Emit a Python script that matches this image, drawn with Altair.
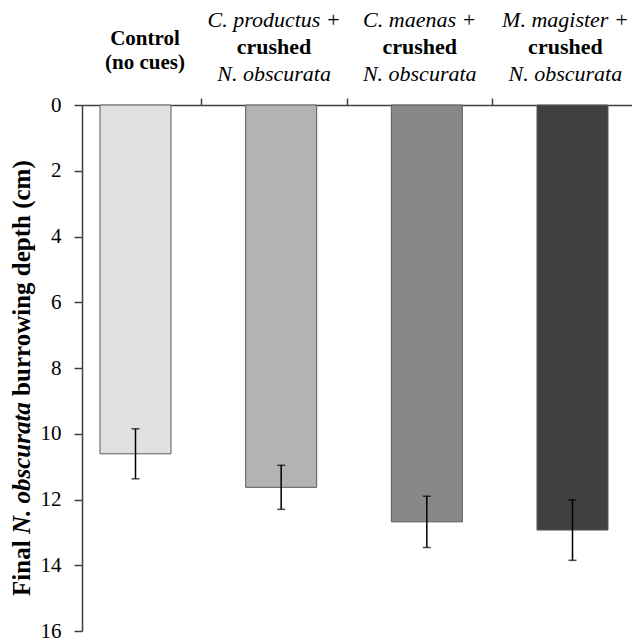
import altair as alt
import pandas as pd

# ---------------- data ----------------
categories = ["Control", "C. productus", "C. maenas", "M. magister"]
mean_depth = [10.61, 11.63, 12.68, 12.93]
se_depth = [0.76, 0.67, 0.78, 0.92]
bar_colors = ["#e0e0e0", "#b3b3b3", "#888888", "#404040"]
y_ticks = [0, 2, 4, 6, 8, 10, 12, 14, 16]
label_line1 = ["Control", "C. productus +", "C. maenas +", "M. magister +"]
label_line2 = ["(no cues)", "crushed", "crushed", "crushed"]
label_line3 = ["", "N. obscurata", "N. obscurata", "N. obscurata"]
title_parts = ["Final", "N. obscurata", "burrowing depth (cm)"]

df = pd.DataFrame({
    "cat": categories,
    "mean": mean_depth,
    "se": se_depth,
    "color": bar_colors,
})
df["low"] = df["mean"] - df["se"]
df["high"] = df["mean"] + df["se"]

# ---------------- layout ----------------
W, H = 550, 526
FONT = "Liberation Serif"
AX = "#404040"

xscale = alt.Scale(domain=categories, range=[0, W], paddingInner=0.5126,
                   paddingOuter=0.1442, align=0.4286)
yscale = alt.Scale(domain=[0, 16], reverse=True, nice=False)

xaxis = alt.Axis(orient="top", title=None, labels=False,
                 values=categories[1:], bandPosition=-0.62,
                 tickSize=7, tickWidth=1.5, tickColor=AX,
                 domainColor=AX, domainWidth=1.5, grid=False)
yaxis = alt.Axis(values=y_ticks, title=None, grid=False,
                 labelFont=FONT, labelFontSize=21, labelColor="black",
                 labelPadding=13, tickSize=8, tickWidth=1.5,
                 tickColor=AX, domainColor=AX, domainWidth=1.5)

base = alt.Chart(df)
xe = alt.X("cat:N", sort=categories, scale=xscale, axis=xaxis)

bars = base.mark_bar(stroke="#5a5a5a", strokeWidth=1).encode(
    x=xe,
    y=alt.Y("mean:Q", scale=yscale, axis=yaxis),
    fill=alt.Fill("color:N", scale=None),
)

err = base.mark_rule(color="black", strokeWidth=1.5).encode(
    x=xe, y=alt.Y("low:Q", scale=yscale, axis=yaxis), y2="high:Q")
cap_lo = base.mark_tick(color="black", thickness=1.5, size=8, orient="horizontal").encode(
    x=xe, y=alt.Y("low:Q", scale=yscale, axis=yaxis))
cap_hi = base.mark_tick(color="black", thickness=1.5, size=8, orient="horizontal").encode(
    x=xe, y=alt.Y("high:Q", scale=yscale, axis=yaxis))


def label_layer(lines, idx, band, ypx, style, weight, size):
    d = pd.DataFrame({"cat": [categories[i] for i in idx],
                      "t": [lines[i] for i in idx]})
    return alt.Chart(d).mark_text(
        font=FONT, fontSize=size, fontStyle=style, fontWeight=weight,
        baseline="alphabetic", align="center", color="black").encode(
        x=alt.X("cat:N", sort=categories, scale=xscale, bandPosition=band, axis=xaxis),
        y=alt.value(ypx), text="t:N")


ctrl = [0]
trt = [1, 2, 3]
labels = [
    label_layer(label_line1, ctrl, 0.634, -60.5, "normal", "bold", 21),
    label_layer(label_line2, ctrl, 0.634, -36, "normal", "bold", 21),
    label_layer(label_line1, trt, 0.40, -78.5, "italic", "normal", 22),
    label_layer(label_line2, trt, 0.40, -51, "normal", "bold", 22),
    label_layer(label_line3, trt, 0.40, -24, "italic", "normal", 22),
]

# ---------------- y title built from three styled pieces ----------------
TFS = 25
final_em, n_em, rest_em, sp_em = 2.223, 5.278, 9.194, 0.25
total = (final_em + sp_em + n_em + sp_em + rest_em) * TFS
center = 276
bottom = center + total / 2
y_final_end = bottom - final_em * TFS
y_n_start = y_final_end - sp_em * TFS
y_rest_start = y_n_start - n_em * TFS - sp_em * TFS
TX = -52


def title_piece(text, ypx, align, style):
    return alt.Chart(pd.DataFrame({"t": [text]})).mark_text(
        font=FONT, fontSize=TFS, fontWeight="bold", fontStyle=style, angle=270,
        align=align, baseline="alphabetic", color="black").encode(
        x=alt.value(TX), y=alt.value(ypx), text="t:N")


titles = [
    title_piece(title_parts[0], y_final_end, "right", "normal"),
    title_piece(title_parts[1], y_n_start, "left", "italic"),
    title_piece(title_parts[2], y_rest_start, "left", "normal"),
]

chart = alt.layer(bars, err, cap_lo, cap_hi, *labels, *titles).properties(
    width=W, height=H,
    background="white",
    autosize=alt.AutoSizeParams(type="none"),
    padding={"left": 74, "top": 97, "right": 0, "bottom": 12},
).configure_view(strokeWidth=0).configure_text(font=FONT)

chart.save("out.html", embed_options={"renderer": "svg", "actions": False})
